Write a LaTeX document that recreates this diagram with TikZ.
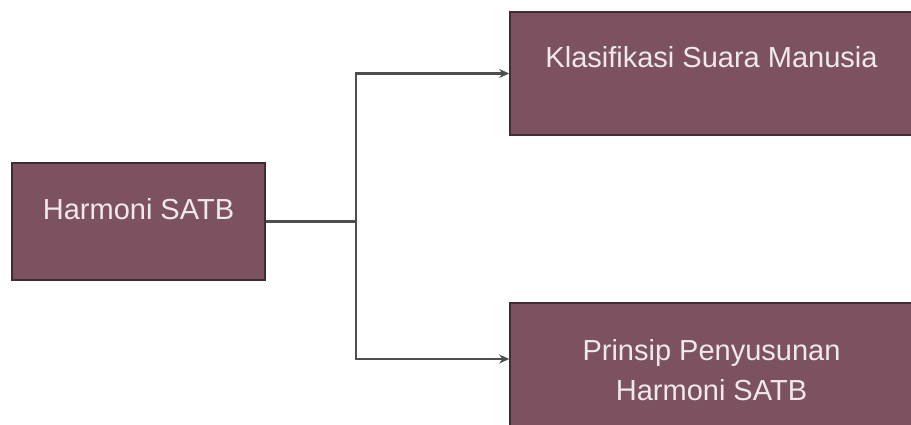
\documentclass[tikz,border=0pt]{standalone}
\usepackage{fontspec}
\setmainfont{Liberation Sans}
\usepackage{tikz}
\usetikzlibrary{positioning}
\usetikzlibrary{arrows.meta,calc}
\definecolor{boxfill}{RGB}{124,82,96}
\definecolor{boxline}{RGB}{66,44,52}
\definecolor{boxtext}{RGB}{240,232,236}
\definecolor{linkgray}{RGB}{78,78,78}

\begin{document}
\begin{tikzpicture}
  [x=1pt,y=-1pt,
  box/.style={rectangle,draw=boxline,fill=boxfill,line width=1.6pt,inner sep=0pt,text=boxtext,font=\fontsize{29}{40}\selectfont,align=center},
  link/.style={draw=linkgray,line width=2.6pt,-{Stealth[length=10pt,width=9pt]}}]
  \useasboundingbox (0,0) rectangle (911,425);
  
  \node[box,minimum width=253pt,minimum height=117pt,text height=21pt,text depth=26pt] (harmoni) at (138.5,221.5) {Harmoni SATB};
  \node[box,minimum width=403pt,minimum height=123pt,text height=21pt,text depth=32pt] (klasifikasi) at (711.5,73.5) {Klasifikasi Suara Manusia};
  \node[box,minimum width=403pt,minimum height=123pt,text height=71pt,text depth=0pt] (prinsip) at (711.5,364.5) {Prinsip Penyusunan\\Harmoni SATB};
  
  \coordinate (split) at (356,221.5);
  
  \draw [link,-] (harmoni.east) -- (split);
  \draw [link] (split) |- (klasifikasi.west);
  \draw [link] (split) |- ([yshift=5.5pt]prinsip.west);
  
\end{tikzpicture}
\end{document}
